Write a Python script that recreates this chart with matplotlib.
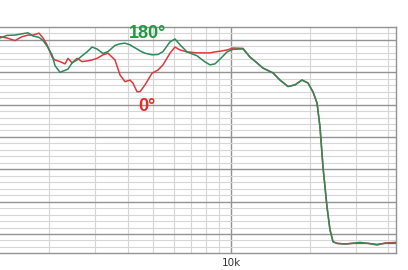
import matplotlib
matplotlib.use("Agg")
import matplotlib.pyplot as plt
from matplotlib.ticker import FixedLocator, NullFormatter

freq_hz = [1293, 1376, 1477, 1571, 1657, 1732, 1826, 1892, 1960, 2049, 2104, 2199,
           2298, 2360, 2445, 2556, 2672, 2792, 2918, 3050, 3216, 3361, 3575, 3737,
           3905, 4083, 4193, 4344, 4461, 4662, 4960, 5230, 5466, 5815, 6077, 6353,
           6760, 7384, 7925, 8283, 8657, 9211, 9627, 10150, 11090, 11800, 12550,
           13230, 14460, 15380, 16510, 17560, 18680, 19700, 20600, 21340, 21910,
           22500, 23310, 23930, 24590, 25460, 27330, 29080, 31210, 33500, 36270,
           38930, 42910]

resp_180 = [0.6, 1.4, 1.5, 1.9, 2.2, 1.2, 0.8, -0.2, -1.9, -4.6, -8.0, -10.0,
            -9.4, -9.0, -7.1, -6.2, -4.9, -3.7, -2.2, -2.8, -4.2, -3.6, -1.7, -1.2,
            -1.0, -1.5, -2.1, -2.8, -3.4, -4.1, -4.6, -4.5, -3.6, -0.6, 0.3, -1.5,
            -3.7, -4.9, -6.8, -7.7, -7.4, -5.3, -3.7, -2.9, -2.8, -5.3, -7.1,
            -8.7, -10.2, -12.4, -14.4, -13.9, -12.4, -13.3, -16.1, -19.5, -26.9,
            -39.3, -51.6, -58.7, -62.4, -62.9, -63.1, -62.9, -62.6, -62.9, -63.2,
            -62.9, -62.9]

resp_0 = [1.0, 0.6, -0.2, 1.0, 1.5, 1.5, 2.1, 0.6, -1.5, -5.3, -6.2, -6.7,
          -7.4, -5.7, -7.1, -5.7, -6.7, -6.5, -6.2, -5.7, -4.6, -4.1, -6.2, -10.8,
          -12.9, -12.4, -13.4, -16.0, -16.0, -13.9, -10.3, -9.3, -7.7, -4.1, -2.2, -3.1,
          -3.7, -4.0, -4.0, -4.0, -3.7, -3.4, -3.1, -2.5, -2.6, -5.3, -7.1,
          -8.7, -10.2, -12.4, -14.4, -13.9, -12.4, -13.3, -16.1, -19.5, -26.9,
          -39.3, -51.6, -58.7, -62.4, -62.9, -63.1, -62.9, -62.9, -62.9, -63.4,
          -62.8, -62.6]

label_180 = "180°"
label_0 = "0°"
x_tick_values = [10000]
x_tick_labels = ["10k"]
x_minor_grid = [2000, 3000, 4000, 5000, 6000, 7000, 8000, 9000, 20000, 30000, 40000]
y_major_grid = [0, -10, -20, -30, -40, -50, -60]
y_minor_grid = [v for v in range(-64, 4, 2) if v % 10 != 0]

fig = plt.figure(figsize=(4.08, 2.70), dpi=100)
ax = fig.add_axes([0.0, 1 - 253.4 / 270, 396 / 408, (253.4 - 27) / 270])
ax.set_xscale("log")
ax.set_xlim(1293, 42910)
ax.set_ylim(-66, 4)

ax.xaxis.set_major_locator(FixedLocator(x_tick_values))
ax.set_xticklabels(x_tick_labels)
ax.xaxis.set_minor_locator(FixedLocator(x_minor_grid))
ax.xaxis.set_minor_formatter(NullFormatter())
ax.yaxis.set_major_locator(FixedLocator(y_major_grid))
ax.yaxis.set_minor_locator(FixedLocator(y_minor_grid))
ax.set_yticklabels([])
ax.tick_params(which="both", length=0)
ax.tick_params(axis="x", labelsize=7.5, labelcolor="#333333", pad=3.5)

ax.grid(which="major", color="#939393", linewidth=1.0)
ax.grid(which="minor", color="#d6d6d6", linewidth=0.8)
ax.set_axisbelow(True)

for side in ["top", "right", "bottom"]:
    ax.spines[side].set_color("#939393")
    ax.spines[side].set_linewidth(1.0)
ax.spines["left"].set_visible(False)

ax.plot(freq_hz, resp_0, color="#e0383a", linewidth=1.1, zorder=3)
ax.plot(freq_hz, resp_180, color="#2a8a58", linewidth=1.1, zorder=4)

ax.text(4766, 2.1, label_180, color="#1f9a3e", fontsize=13, fontweight="bold",
        family=["Liberation Sans", "DejaVu Sans"], ha="center", va="center",
        zorder=6, clip_on=False)
ax.text(4740, -20.7, label_0, color="#e82a2a", fontsize=13, fontweight="bold",
        family=["Liberation Sans", "DejaVu Sans"], ha="center", va="center",
        zorder=6, clip_on=False)

fig.savefig("out.png", dpi=100)
